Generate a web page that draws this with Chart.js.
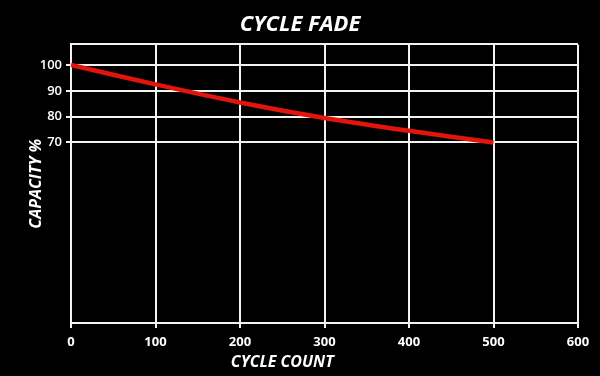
<!DOCTYPE html>
<html>
<head>
<meta charset="utf-8">
<script src="https://cdn.jsdelivr.net/npm/chart.js@4/dist/chart.umd.min.js"></script>
<style>
  html, body { margin: 0; padding: 0; background: #000; }
  #wrap { width: 600px; height: 376px; }
</style>
</head>
<body>
<div id="wrap"><canvas id="myChart"></canvas></div>
<script>
let cycles = [0, 100, 200, 300, 400, 500];
let capacity = [100, 92.5, 85.5, 79.5, 74.5, 70];
let yTicks = [70, 80, 90, 100];
let xTicks = [0, 100, 200, 300, 400, 500, 600];
const yTop = 108;

const points = cycles.map((c, i) => ({ x: c, y: capacity[i] }));

// x axis title sits left of the plot centre in the original, so draw it by hand
const xTitlePlugin = {
    id: 'xTitle',
    afterDraw(chart) {
        const c = chart.ctx;
        const xs = chart.scales.x;
        c.save();
        c.fillStyle = '#fff';
        c.font = 'italic bold 16px "Open Sans"';
        c.textAlign = 'center';
        c.textBaseline = 'middle';
        c.fillText('CYCLE COUNT', xs.getPixelForValue(250), 362);
        c.restore();
    }
};

let ctx = document.getElementById('myChart').getContext('2d');

let myChart = new Chart(ctx, {
    type: 'line',
    data: {
        datasets: [
            {
                label: 'Capacity',
                data: points,
                borderColor: '#e3140c',
                borderWidth: 4.5,
                pointRadius: 0,
                tension: 0.3,
                fill: false
            }
        ]
    },
    plugins: [xTitlePlugin],
    options: {
        responsive: true,
        maintainAspectRatio: false,
        animation: false,
        layout: { padding: 0 },
        plugins: {
            legend: { display: false },
            tooltip: { enabled: false },
            title: {
                display: true,
                text: 'CYCLE FADE',
                color: '#fff',
                font: { family: 'Open Sans', size: 22, weight: 'bold', style: 'italic' },
                padding: { top: 12, bottom: 6 }
            }
        },
        scales: {
            x: {
                type: 'linear',
                min: 0,
                max: 600,
                afterBuildTicks: (scale) => {
                    scale.ticks = xTicks.map(v => ({ value: v }));
                },
                afterFit: (scale) => { scale.height = 53; },
                grid: { color: '#f2f2f2', lineWidth: 2, tickLength: 5, tickColor: '#f2f2f2' },
                border: { color: '#f2f2f2', width: 2 },
                ticks: {
                    color: '#fff',
                    padding: 6,
                    maxRotation: 0,
                    font: { family: 'Open Sans', size: 13, weight: 'bold' }
                }
            },
            y: {
                min: 0,
                max: yTop,
                afterBuildTicks: (scale) => {
                    scale.ticks = yTicks.concat([yTop]).map(v => ({ value: v }));
                },
                afterFit: (scale) => { scale.width = 71; },
                grid: {
                    color: '#f2f2f2',
                    lineWidth: 2,
                    tickLength: 5,
                    tickColor: (c) => (c.tick && c.tick.value === yTop) ? 'rgba(0,0,0,0)' : '#f2f2f2'
                },
                border: { color: '#f2f2f2', width: 2 },
                ticks: {
                    color: '#fff',
                    padding: 4,
                    font: { family: 'Open Sans', size: 13, weight: '600' },
                    callback: (v) => v === yTop ? '' : v
                },
                title: {
                    display: true,
                    text: 'CAPACITY %',
                    color: '#fff',
                    font: { family: 'Open Sans', size: 16, weight: 'bold', style: 'italic' },
                    padding: { top: 27, bottom: 0 }
                }
            },
            // empty right-hand strip so the plot ends at the same place as the original
            yRight: {
                position: 'right',
                display: true,
                min: 0,
                max: yTop,
                afterFit: (scale) => { scale.width = 22; },
                grid: { drawOnChartArea: false, drawTicks: false, display: false },
                border: { display: false },
                ticks: { display: false }
            }
        }
    }
});
</script>
</body>
</html>
